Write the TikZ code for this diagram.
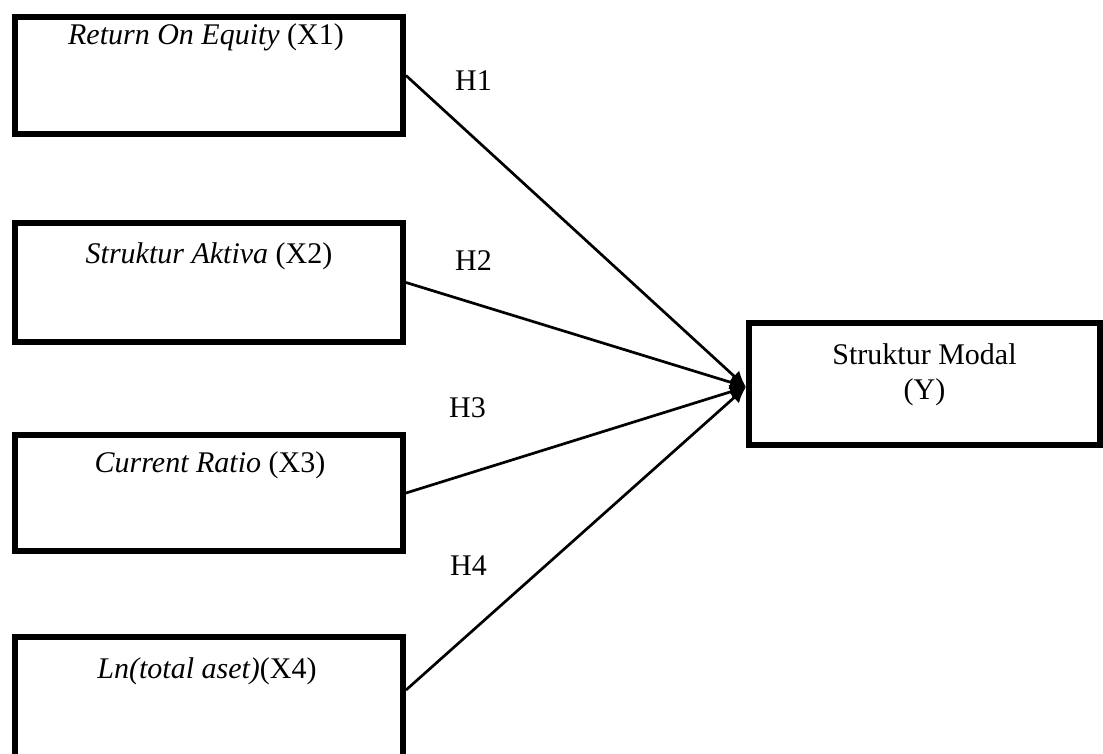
\documentclass[tikz,border=0pt]{standalone}
\usepackage{fontspec}
\setmainfont{Liberation Serif}
\usetikzlibrary{arrows.meta}
\tikzset{
  box/.style={draw, line width=6pt, inner sep=0pt},
  txt/.style={anchor=base, inner sep=0pt, font=\fontsize{30}{36}\selectfont},
  hlbl/.style={anchor=base west, inner sep=0pt, font=\fontsize{30}{36}\selectfont},
  link/.style={line width=2.7pt, -{Latex[length=16pt,width=15pt]}}
}
\begin{document}
\begin{tikzpicture}[x=1pt,y=-1pt]
\useasboundingbox (0,0) rectangle (1103,753);
\clip (0,0) rectangle (1103,753);
\fill[white] (0,0) rectangle (1103,753);
% boxes
\node[box, minimum width=388pt, minimum height=117pt] (x1) at (209,75.5) {};
\node[box, minimum width=388pt, minimum height=119pt] (x2) at (209,282.5) {};
\node[box, minimum width=388pt, minimum height=116pt] (x3) at (209,493) {};
\node[box, minimum width=388pt, minimum height=130pt] (x4) at (209,702) {};
\node[box, minimum width=351pt, minimum height=122pt] (y) at (924.5,384) {};
% texts
\node[txt] (t1) at (206,44) {\textit{Return On Equity} (X1)};
\node[txt] (t2) at (209,263) {\textit{Struktur Aktiva} (X2)};
\node[txt] (t3) at (210,472) {\textit{Current Ratio} (X3)};
\node[txt] (t4) at (207,678) {\textit{Ln(total aset)}(X4)};
\node[txt] (ty1) at (924.5,364) {Struktur Modal};
\node[txt] (ty2) at (924.5,399) {(Y)};
% hypothesis labels
\node[hlbl] (h1) at (455,90) {H1};
\node[hlbl] (h2) at (455,270) {H2};
\node[hlbl] (h3) at (449,417) {H3};
\node[hlbl] (h4) at (450,575) {H4};
% connectors
\coordinate (tip) at ([yshift=-3pt]y.west);
\draw[link] (x1.east) -- (tip);
\draw[link] (x2.east) -- (tip);
\draw[link] (x3.east) -- (tip);
\draw[link] ([yshift=12pt]x4.east) -- (tip);
\end{tikzpicture}
\end{document}
